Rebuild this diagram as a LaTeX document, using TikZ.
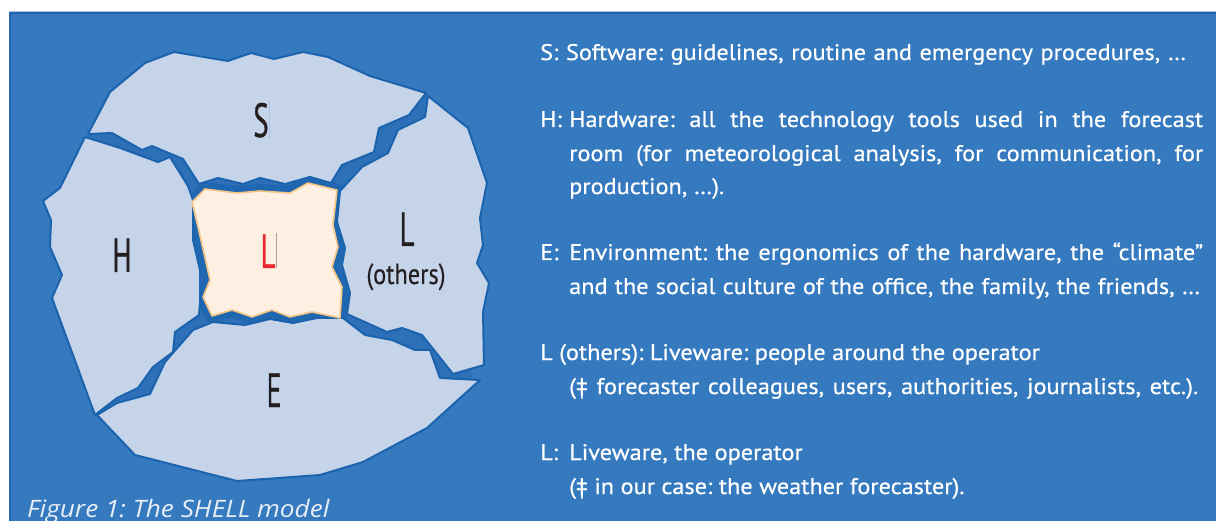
\documentclass[tikz,border=0pt]{standalone}
\usepackage{fontspec}
\setmainfont{PT Sans}
\newfontfamily\txtfont[FakeStretch=1.08, FakeBold=0.6]{PT Sans}
\newfontfamily\lblfont[FakeStretch=0.6, FakeBold=0.5]{PT Sans}
\newfontfamily\smlblfont[FakeStretch=0.84, FakeBold=0.3]{PT Sans}
\newfontfamily\capfont[ItalicFont={Open Sans Italic}, ItalicFeatures={FakeStretch=1.09}]{Open Sans}

\definecolor{bgblue}{HTML}{3579BE}
\definecolor{frameblue}{HTML}{1F65AF}
\definecolor{toplight}{HTML}{A9C4E2}
\definecolor{crackblue}{HTML}{2D70B8}
\definecolor{bandblue}{HTML}{1F67B1}
\definecolor{piecefill}{HTML}{C6D4EA}
\definecolor{pieceline}{HTML}{1C63AE}
\definecolor{creamfill}{HTML}{FDF0E2}
\definecolor{creamline}{HTML}{F5C384}
\definecolor{labelink}{HTML}{231F20}
\definecolor{lred}{HTML}{E8262C}
\definecolor{captionink}{HTML}{E8EEF7}

\tikzset{
  piece/.style={fill=piecefill, draw=pieceline, line width=2pt, line join=round},
  core/.style={fill=creamfill, draw=creamline, line width=1.6pt, line join=round},
  lbl/.style={inner sep=0pt, anchor=base, text=labelink, font=\lblfont\fontsize{48}{48}\selectfont},
  desc/.style={inner sep=0pt, anchor=base west, text=white, font=\txtfont\fontsize{22.5}{22.5}\selectfont},
  caret/.style={line width=0.7pt}
}
% a text line spread to a fixed width
\newcommand{\spreadline}[2]{\makebox[#1][s]{#2}}
\frenchspacing

\begin{document}
\begin{tikzpicture}[x=1pt,y=-1pt]
\useasboundingbox (0,0) rectangle (1216,521);
\fill[white] (0,0) rectangle (1216,521);
% panel
\fill[bgblue] (9,12) rectangle (1216,521);
\draw[frameblue, line width=2pt] (10,521) -- (10,13) -- (1216,13);
\draw[toplight, line width=0.8pt] (9,11.8) -- (1216,11.8);

% cracks between the pieces
\fill[crackblue] (88,134) -- (427,94) -- (472,378) -- (96,415) -- cycle;
% dark band round the operator
\draw[bandblue, line width=14pt, line join=round]
  (192,202) -- (205,189) -- (237,193) -- (260,191) -- (290,193) -- (308,183) -- (337,190)
  -- (333,225) -- (338,247) -- (332,267) -- (342,287) -- (340,318)
  -- (312,312) -- (290,317) -- (272,310) -- (252,317) -- (232,310) -- (212,316)
  -- (203,297) -- (210,280) -- (198,227) -- cycle;

% S: software
\filldraw[piece] (174,52) -- (228,61) -- (251,53) -- (274,59) -- (303,52) -- (328,57)
  -- (370,76) -- (426,93) -- (409,115) -- (379,128) -- (374,152) -- (342,165) -- (331,183)
  -- (310,177) -- (285,184) -- (260,178) -- (243,184) -- (218,178) -- (199,184)
  -- (183,159) -- (152,146) -- (142,150) -- (112,133) -- (88,134)
  -- (110,92) -- (145,63) -- cycle;
% H: hardware
\filldraw[piece] (85,137) -- (120,148) -- (158,162) -- (170,157) -- (188,186) -- (193,200)
  -- (193,240) -- (200,270) -- (200,303) -- (199,315) -- (175,332) -- (173,352)
  -- (153,367) -- (138,388) -- (117,398) -- (95,415)
  -- (52,298) -- (62,275) -- (50,247) -- (51,220) -- (43,201) -- (60,188) -- cycle;
% L: liveware (others)
\filldraw[piece] (428,96) -- (468,128) -- (487,183) -- (480,218) -- (483,245) -- (477,263)
  -- (489,283) -- (483,312) -- (484,365) -- (453,374)
  -- (422,335) -- (402,328) -- (387,332) -- (347,314)
  -- (350,293) -- (342,265) -- (345,248) -- (337,222) -- (340,191)
  -- (362,167) -- (388,153) -- (398,130) -- (425,117) -- cycle;
% E: environment
\filldraw[piece] (97,415) -- (117,403) -- (150,394) -- (165,362) -- (193,330) -- (213,322)
  -- (245,325) -- (270,319) -- (293,323) -- (317,318) -- (343,318) -- (365,335)
  -- (392,340) -- (415,350) -- (430,350) -- (440,378) -- (480,380)
  -- (427,428) -- (363,462) -- (320,475) -- (237,481) -- (135,455) -- cycle;
% L: liveware, the operator
\filldraw[core]
  (192,202) -- (205,189) -- (237,193) -- (260,191) -- (290,193) -- (308,183) -- (337,190)
  -- (333,225) -- (338,247) -- (332,267) -- (342,287) -- (340,318)
  -- (312,312) -- (290,317) -- (272,310) -- (252,317) -- (232,310) -- (212,316)
  -- (203,297) -- (210,280) -- (198,227) -- cycle;

% labels
\node[lbl] (lS) at (261,137) {S};
\node[lbl] (lH) at (122,272) {H};
\node[lbl, text=lred] (lL) at (268,268) {L};
\node[lbl] (lLo) at (407,246) {L};
\node[lbl, font=\smlblfont\fontsize{29}{29}\selectfont] (lOthers) at (406,284) {(others)};
\node[lbl] (lE) at (274,407) {E};
\draw[caret, draw=toplight] (269,100) -- (269,138);
\draw[caret, draw=toplight] (268,373) -- (268,407);
\draw[caret, draw=gray!70] (276,233) -- (276,268);

% legend
\node[desc] (tS) at (540,60) {\spreadline{646pt}{S: Software: guidelines, routine and emergency procedures, …}};
\node[desc] (tH0) at (540,127) {H:};
\node[desc] (tH1) at (569,127) {\spreadline{634pt}{Hardware: all the technology tools used in the forecast}};
\node[desc] (tH2) at (569,161) {\spreadline{634pt}{room (for meteorological analysis, for communication, for}};
\node[desc] (tH3) at (569,194) {production, …).};
\node[desc] (tE0) at (540,260) {E:};
\node[desc] (tE1) at (569,260) {\spreadline{634pt}{Environment: the ergonomics of the hardware, the “climate”}};
\node[desc] (tE2) at (569,294) {\spreadline{631pt}{and the social culture of the office, the family, the friends, …}};
\node[desc] (tO1) at (540,360) {L (others): Liveware: people around the operator};
\node[desc] (tO2) at (569,394) {\spreadline{629pt}{(‡ forecaster colleagues, users, authorities, journalists, etc.).}};
\node[desc] (tL0) at (540,460) {L:};
\node[desc] (tL1) at (569,460) {Liveware, the operator};
\node[desc] (tL2) at (569,494) {(‡ in our case: the weather forecaster).};

% caption
\node[inner sep=0pt, anchor=base west, text=captionink, font=\capfont\itshape\fontsize{24}{24}\selectfont] (cap) at (27,517) {Figure 1: The SHELL model};
\end{tikzpicture}
\end{document}
